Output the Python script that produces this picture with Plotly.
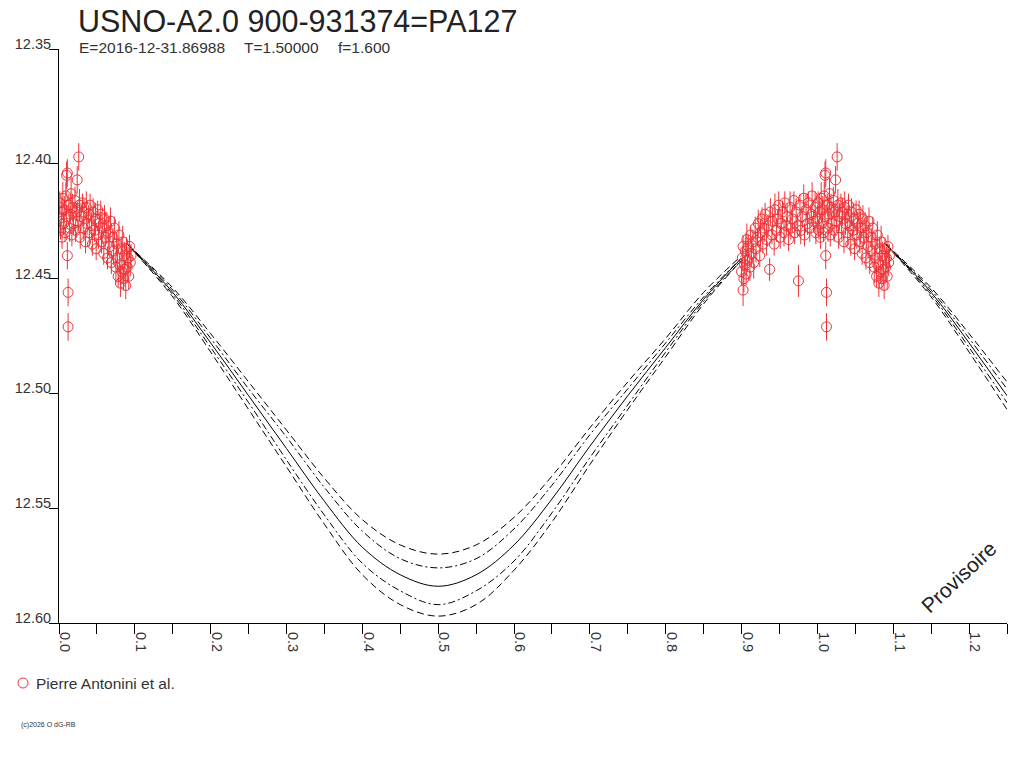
import numpy as np
import plotly.graph_objects as go

# Observations (phase, magnitude, error) - Pierre Antonini et al.
phase = [
    0.900, 0.901, 0.902, 0.902, 0.903, 0.904, 0.905, 0.906, 0.907, 0.908,
    0.909, 0.911, 0.912, 0.913, 0.915, 0.916, 0.918, 0.919, 0.921, 0.922,
    0.924, 0.925, 0.927, 0.928, 0.930, 0.931, 0.933, 0.935, 0.937, 0.938,
    0.940, 0.941, 0.943, 0.944, 0.946, 0.948, 0.949, 0.951, 0.952, 0.954,
    0.956, 0.957, 0.959, 0.960, 0.962, 0.964, 0.965, 0.967, 0.969, 0.970,
    0.972, 0.974, 0.975, 0.977, 0.978, 0.980, 0.982, 0.983, 0.985, 0.987,
    0.988, 0.990, 0.992, 0.993, 0.995, 0.997, 0.998, 0.000, 0.001, 0.002,
    0.003, 0.004, 0.005, 0.006, 0.007, 0.008, 0.009, 0.010, 0.010, 0.011,
    0.011, 0.012, 0.012, 0.013, 0.014, 0.015, 0.016, 0.017, 0.018, 0.019,
    0.021, 0.022, 0.023, 0.024, 0.025, 0.026, 0.027, 0.028, 0.029, 0.031,
    0.032, 0.033, 0.035, 0.036, 0.037, 0.039, 0.040, 0.041, 0.043, 0.044,
    0.045, 0.047, 0.048, 0.049, 0.051, 0.052, 0.053, 0.055, 0.056, 0.057,
    0.059, 0.060, 0.061, 0.063, 0.064, 0.065, 0.067, 0.068, 0.069, 0.071,
    0.072, 0.073, 0.075, 0.076, 0.077, 0.078, 0.079, 0.080, 0.081, 0.082,
    0.083, 0.084, 0.085, 0.086, 0.087, 0.088, 0.089, 0.090, 0.091, 0.092,
    0.093, 0.094, 0.095,
]
mag = [
    12.447, 12.441, 12.455, 12.436, 12.450, 12.444, 12.438, 12.448, 12.433, 12.442,
    12.436, 12.445, 12.431, 12.439, 12.434, 12.443, 12.428, 12.437, 12.432, 12.426,
    12.440, 12.430, 12.424, 12.435, 12.428, 12.422, 12.433, 12.427, 12.446, 12.421,
    12.431, 12.425, 12.435, 12.420, 12.429, 12.424, 12.418, 12.432, 12.426, 12.421,
    12.430, 12.417, 12.427, 12.423, 12.433, 12.419, 12.428, 12.424, 12.416, 12.430,
    12.421, 12.427, 12.451, 12.418, 12.429, 12.423, 12.415, 12.431, 12.420, 12.426,
    12.417, 12.428, 12.422, 12.414, 12.425, 12.419, 12.430, 12.424, 12.417, 12.429,
    12.421, 12.432, 12.415, 12.426, 12.420, 12.430, 12.414, 12.405, 12.423, 12.440,
    12.404, 12.456, 12.471, 12.418, 12.428, 12.422, 12.413, 12.431, 12.419, 12.426,
    12.416, 12.429, 12.421, 12.407, 12.425, 12.397, 12.418, 12.432, 12.423, 12.417,
    12.428, 12.421, 12.434, 12.419, 12.426, 12.422, 12.430, 12.418, 12.427, 12.435,
    12.421, 12.429, 12.424, 12.437, 12.420, 12.431, 12.426, 12.422, 12.434, 12.428,
    12.439, 12.424, 12.432, 12.427, 12.441, 12.430, 12.436, 12.425, 12.443, 12.432,
    12.438, 12.428, 12.445, 12.435, 12.441, 12.449, 12.431, 12.444, 12.452, 12.437,
    12.447, 12.434, 12.450, 12.440, 12.446, 12.453, 12.437, 12.445, 12.441, 12.449,
    12.436, 12.443, 12.440,
]
err = [
    0.006, 0.005, 0.007, 0.005, 0.006, 0.004, 0.006, 0.005, 0.007, 0.005,
    0.005, 0.006, 0.004, 0.006, 0.005, 0.007, 0.005, 0.006, 0.004, 0.006,
    0.005, 0.006, 0.005, 0.004, 0.006, 0.005, 0.007, 0.005, 0.005, 0.006,
    0.004, 0.006, 0.005, 0.007, 0.005, 0.004, 0.006, 0.005, 0.006, 0.005,
    0.006, 0.005, 0.004, 0.006, 0.005, 0.007, 0.005, 0.006, 0.004, 0.005,
    0.006, 0.005, 0.007, 0.005, 0.006, 0.004, 0.006, 0.005, 0.007, 0.005,
    0.005, 0.006, 0.004, 0.006, 0.005, 0.007, 0.005, 0.006, 0.005, 0.004,
    0.006, 0.005, 0.007, 0.005, 0.006, 0.004, 0.006, 0.006, 0.005, 0.006,
    0.006, 0.006, 0.006, 0.005, 0.006, 0.004, 0.007, 0.005, 0.006, 0.005,
    0.006, 0.005, 0.004, 0.006, 0.005, 0.006, 0.007, 0.005, 0.006, 0.004,
    0.005, 0.006, 0.005, 0.007, 0.005, 0.004, 0.006, 0.005, 0.006, 0.005,
    0.006, 0.005, 0.007, 0.005, 0.004, 0.006, 0.005, 0.006, 0.005, 0.007,
    0.005, 0.006, 0.004, 0.006, 0.005, 0.007, 0.005, 0.006, 0.005, 0.004,
    0.006, 0.005, 0.007, 0.005, 0.006, 0.005, 0.006, 0.004, 0.006, 0.005,
    0.005, 0.007, 0.005, 0.006, 0.004, 0.006, 0.005, 0.007, 0.005, 0.006,
    0.005, 0.006, 0.005,
]

# Fitted curve + envelopes
fit_phase = [0.09, 0.15, 0.20, 0.25, 0.30, 0.35, 0.40, 0.45, 0.50,
             0.55, 0.60, 0.65, 0.70, 0.75, 0.80, 0.85, 0.90]
fit_mid = [12.435, 12.456, 12.478, 12.501, 12.524, 12.547, 12.567, 12.579, 12.584,
           12.579, 12.566, 12.546, 12.523, 12.501, 12.480, 12.459, 12.441]
fit_hi_dash = [12.435, 12.454, 12.474, 12.495, 12.516, 12.537, 12.555, 12.566, 12.570,
               12.566, 12.554, 12.536, 12.515, 12.495, 12.476, 12.456, 12.440]
fit_hi_dot = [12.435, 12.455, 12.476, 12.498, 12.519, 12.541, 12.560, 12.572, 12.576,
              12.572, 12.559, 12.540, 12.518, 12.498, 12.478, 12.458, 12.441]
fit_lo_dot = [12.435, 12.457, 12.480, 12.504, 12.529, 12.553, 12.574, 12.586, 12.592,
              12.586, 12.573, 12.552, 12.528, 12.505, 12.482, 12.460, 12.442]
fit_lo_dash = [12.435, 12.458, 12.482, 12.507, 12.532, 12.557, 12.579, 12.592, 12.597,
               12.592, 12.577, 12.556, 12.531, 12.507, 12.484, 12.461, 12.442]

RED = "#EE3338"
FONT = "Liberation Sans, Arial, sans-serif"

fig = go.Figure()

fp = np.array(fit_phase)
wrap = fp <= 0.30
curves = [
    (fit_hi_dash, "7px,4px"),
    (fit_hi_dot, "7px,3px,2px,3px"),
    (fit_mid, "solid"),
    (fit_lo_dot, "7px,3px,2px,3px"),
    (fit_lo_dash, "7px,4px"),
]
for vals, dash in curves:
    v = np.array(vals)
    for xs, ys in [(fp, v), (fp[wrap] + 1, v[wrap])]:
        fig.add_trace(go.Scatter(
            x=xs, y=ys, mode="lines", line=dict(color="black", width=1, dash=dash, shape="spline"),
            showlegend=False, hoverinfo="skip"))

# each observation is shown at its phase and again one cycle later
ph = np.array(phase)
x_obs = np.concatenate([ph, ph + 1])
y_obs = np.concatenate([mag, mag])
e_obs = np.concatenate([err, err])

fig.add_trace(go.Scatter(
    x=x_obs, y=y_obs, mode="markers",
    marker=dict(symbol="circle-open", size=10, color=RED, line=dict(width=1, color=RED)),
    error_y=dict(type="data", array=e_obs, color=RED, thickness=1, width=0),
    showlegend=False))

fig.update_layout(
    template="none",
    width=1024, height=768,
    margin=dict(l=59, r=17, t=49, b=145),
    paper_bgcolor="white", plot_bgcolor="white",
    font=dict(family=FONT, color="#333333", size=14),
    showlegend=False,
)
fig.update_xaxes(
    range=[0, 1.25], tick0=0, dtick=0.1, tickformat=".1f", tickangle=90,
    ticks="outside", ticklen=10, tickcolor="black", tickwidth=1,
    showline=True, linecolor="black", linewidth=1, showgrid=False, zeroline=False,
    minor=dict(ticks="outside", ticklen=10, dtick=0.05, tick0=0, tickcolor="black", showgrid=False),
    ticklabelshift=6, ticklabelstandoff=-5, automargin=False,
    tickfont=dict(size=14.5, color="#333333"),
)
fig.update_yaxes(
    range=[12.60, 12.35], tick0=12.35, dtick=0.05, tickformat=".2f",
    ticks="outside", ticklen=9, tickcolor="black", tickwidth=1,
    showline=True, linecolor="black", linewidth=1, showgrid=False, zeroline=False,
    ticklabelshift=5, ticklabelstandoff=-5, automargin=False,
    tickfont=dict(size=14.5, color="#333333"),
)


def px_x(px):
    return (px - 59) / 948.0


def px_y(py):
    return (623 - py) / 574.0


def label(text, x, y, size, anchor="left", angle=0, color="#333333"):
    fig.add_annotation(text=text, xref="paper", yref="paper", x=px_x(x), y=px_y(y),
                       xanchor=anchor, yanchor="middle", showarrow=False, textangle=angle,
                       font=dict(size=size, color=color, family=FONT))


label("USNO-A2.0 900-931374=PA127", 76, 21, 30.5, color="#222222")
label("E=2016-12-31.86988", 77, 48, 15.5)
label("T=1.50000", 242, 48, 15.5)
label("f=1.600", 336, 48, 15.5)
label("Provisoire", 958, 577, 21, anchor="center", angle=-43, color="#222222")
label("Pierre Antonini et al.", 34, 683, 15.5)
label("(c)2026 O dG-RB", 19, 725, 7)

# legend symbol
fig.add_shape(type="circle", xref="paper", yref="paper", xsizemode="pixel", ysizemode="pixel",
              xanchor=px_x(23), yanchor=px_y(683), x0=-5, x1=5, y0=-5, y1=5,
              line=dict(color=RED, width=1))

# drop the default page margin so the figure sits at the window corner
fig.write_html("out.html", config={"displayModeBar": False},
               post_script="document.body.style.margin='0';")
